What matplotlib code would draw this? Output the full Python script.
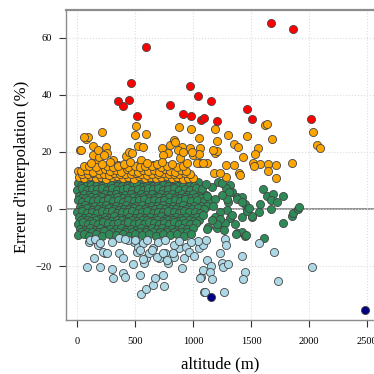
import matplotlib.pyplot as plt

plt.rcParams['font.family'] = ['Liberation Serif', 'DejaVu Serif']

# erreur > 30 %
red_alt = [592, 466, 351, 448, 394, 512, 799, 1667, 1862, 969, 1043, 1153, 914, 980,
           1064, 1090, 1202, 1463, 1503, 2012]
red_err = [56.8, 44.2, 37.9, 38.2, 36.1, 32.6, 36.5, 65.3, 63.2, 43.0, 39.6, 37.7, 33.4, 32.7,
           31.2, 31.8, 30.9, 35.1, 31.4, 31.6]

# erreur < -30 %
navy_alt = [1150, 2483]
navy_err = [-30.9, -35.3]

# 10 % < erreur < 30 %
orange_pts = [
    (23, 20.7), (75, 24.4), (95, 25.1), (60, 25.3), (138, 22.1), (133, 18.9), (167, 16.0),
    (187, 18.3), (216, 27.1), (247, 21.8), (259, 19.5), (310, 17.2), (353, 15.4), (420, 18.6),
    (448, 20.1), (469, 19.5), (503, 29.1), (500, 25.9), (521, 22.2), (569, 21.8), (590, 26.3),
    (541, 16.0), (549, 17.2), (627, 13.7), (733, 21.5), (799, 22.4), (785, 19.5), (836, 24.2),
    (874, 28.8), (905, 21.8), (885, 17.8), (842, 23.6), (871, 20.7), (972, 21.3), (741, 18.9),
    (914, 20.1), (1000, 18.9), (980, 27.9), (1052, 25.0), (1184, 27.9), (1202, 23.9),
    (1302, 25.9), (1348, 22.8), (1385, 21.6), (1463, 25.6), (1618, 29.3), (1633, 29.8),
    (1678, 24.5), (1558, 21.3), (1529, 19.3), (1428, 18.3), (1515, 16.0), (1572, 15.7),
    (1644, 15.8), (1716, 15.4), (1644, 13.4), (1716, 11.0), (1853, 16.0), (1521, 15.1),
    (1391, 12.5), (1279, 15.4), (1353, 15.4), (1282, 11.1), (1181, 12.7), (1190, 19.7),
    (1204, 20.4), (1060, 21.3), (1047, 19.3), (1060, 16.0), (1118, 16.0), (2032, 27.1),
    (2066, 22.3), (2090, 21.4), (989, 20.1), (32, 20.7), (176, 20.7), (233, 18.9), (650, 15.4),
    (6, 13.4), (1403, 11.9), (1230, 12.5), (1029, 16.0), (1086, 16.0), (1172, 20.7),
    (15, 11.2), (60, 10.7), (110, 11.5), (160, 10.9), (205, 11.3), (250, 10.6), (300, 11.1),
    (345, 11.6), (395, 10.8), (440, 11.2), (490, 10.6), (535, 11.4), (580, 10.9), (630, 11.3),
    (675, 10.7), (720, 11.1), (770, 11.5), (815, 10.8), (860, 11.2), (910, 10.6), (955, 11.0),
    (1000, 10.8),
    (40, 12.3), (90, 12.1), (140, 12.5), (185, 12.2), (230, 12.4), (275, 12.0), (320, 12.6),
    (365, 12.2), (410, 12.4), (460, 12.1), (505, 12.5), (550, 12.3), (600, 12.0), (645, 12.4),
    (695, 12.2), (740, 12.6), (790, 12.1), (835, 12.4), (880, 12.2), (930, 12.5), (975, 12.1),
    (30, 13.3), (85, 13.8), (135, 13.1), (190, 13.6), (235, 14.0), (285, 13.2), (330, 13.7),
    (380, 13.0), (425, 13.9), (475, 13.4), (520, 13.1), (565, 13.8), (610, 13.3), (660, 13.6),
    (705, 13.0), (755, 13.9), (800, 13.4), (845, 13.1), (895, 13.7), (940, 13.2),
    (60, 14.9), (100, 15.2), (160, 14.7), (255, 15.0), (310, 14.6), (355, 15.1), (440, 14.8),
    (500, 15.2), (540, 14.7), (585, 15.0), (640, 14.9), (720, 14.6), (775, 15.1), (860, 14.8),
    (915, 15.0),
    (120, 16.2), (210, 15.8), (280, 16.4), (400, 15.7), (455, 16.3), (600, 16.1), (690, 15.9),
    (730, 16.5), (820, 15.8), (950, 16.0),
]

# -30 % < erreur < -10 %
blue_pts = [
    (81, -20.2), (141, -17.3), (193, -20.2), (241, -15.3), (219, -15.0), (299, -21.1),
    (305, -24.3), (357, -15.5), (397, -17.3), (397, -22.5), (409, -23.7), (478, -19.4),
    (491, -11.5), (512, -15.0), (521, -13.2), (541, -23.1), (552, -29.8), (592, -28.0),
    (592, -17.3), (578, -19.0), (621, -15.5), (655, -26.6), (672, -24.3), (736, -23.1),
    (750, -27.0), (759, -15.5), (707, -17.3), (779, -19.0), (836, -16.7), (903, -20.8),
    (922, -17.3), (879, -13.8), (103, -11.5), (176, -12.6), (362, -10.3), (434, -10.9),
    (564, -12.0), (650, -13.8), (693, -11.5), (836, -12.6), (937, -13.2), (1052, -13.8),
    (1066, -23.7), (1095, -29.0), (1273, -10.5), (1282, -12.8), (1230, -15.5), (1121, -17.9),
    (1150, -19.9), (1081, -21.4), (1144, -22.2), (1058, -24.1), (1164, -24.5), (1245, -19.0),
    (1253, -20.5), (1302, -19.3), (1101, -29.0), (1265, -29.0), (1417, -16.5), (1446, -22.0),
    (1431, -24.5), (1569, -12.0), (1696, -15.2), (1733, -25.2), (2023, -20.3), (1084, -12.6),
    (1110, -11.0), (1040, -11.2), (980, -11.5), (960, -15.0), (1010, -16.5), (110, -11.0),
    (153, -10.4), (196, -12.0), (253, -15.4), (411, -10.4), (497, -11.0), (541, -14.5),
    (569, -17.4), (641, -14.5), (684, -16.8), (741, -15.6), (770, -18.0), (828, -15.6),
    (880, -11.2), (760, -11.0), (300, -11.5), (600, -10.8),
]

# -10 % < erreur < 10 %
green_pts = [
    (10, 9.2), (55, 8.7), (95, 9.4), (140, 8.9), (185, 9.3), (230, 8.6), (270, 9.1), (320, 9.5),
    (360, 8.8), (405, 9.2), (450, 8.5), (490, 9.3), (540, 9.0), (585, 8.7), (625, 9.4),
    (670, 8.9), (715, 9.2), (760, 8.6), (800, 9.3), (850, 9.0), (895, 8.4), (940, 9.1),
    (990, 8.8), (1040, 9.3),
    (30, 8.1), (75, 7.9), (120, 8.3), (165, 8.0), (210, 8.2), (250, 7.8), (295, 8.3), (340, 8.0),
    (385, 7.9), (425, 8.2), (470, 8.0), (515, 8.3), (560, 7.8), (605, 8.1), (650, 8.2),
    (690, 7.9), (735, 8.3), (780, 8.0), (825, 7.8), (870, 8.2), (915, 8.0), (965, 8.1),
    (1010, 7.9),
    (0, 6.8), (40, 7.3), (85, 6.6), (125, 7.1), (170, 6.9), (215, 7.4), (255, 6.7), (300, 7.2),
    (345, 6.5), (390, 7.0), (430, 7.5), (475, 6.8), (520, 7.1), (565, 6.6), (610, 7.3),
    (655, 6.9), (700, 7.2), (740, 6.5), (785, 7.0), (830, 7.4), (880, 6.7), (925, 7.1),
    (970, 6.6), (1020, 7.2), (1075, 6.9),
    (15, 4.7), (60, 5.2), (100, 4.9), (150, 5.4), (195, 4.6), (240, 5.1), (280, 4.8), (330, 5.3),
    (370, 4.6), (415, 5.0), (460, 5.4), (505, 4.7), (550, 5.2), (595, 4.9), (640, 5.3),
    (685, 4.6), (725, 5.1), (770, 4.8), (815, 5.3), (860, 4.7), (905, 5.2), (950, 4.9),
    (1000, 5.1), (1050, 4.6), (1110, 5.0),
    (30, 4.0), (75, 3.8), (120, 4.1), (165, 3.9), (210, 4.2), (255, 3.8), (300, 4.0), (345, 4.1),
    (390, 3.7), (435, 4.0), (480, 4.2), (525, 3.9), (570, 4.1), (615, 3.8), (660, 4.0),
    (705, 4.2), (750, 3.9), (795, 4.1), (840, 3.8), (885, 4.0), (930, 4.2), (975, 3.9),
    (1025, 4.1), (1070, 3.8),
    (5, 3.1), (45, 2.6), (90, 3.3), (135, 2.8), (175, 3.2), (220, 2.7), (265, 3.4), (310, 2.9),
    (350, 3.1), (395, 2.6), (440, 3.3), (485, 2.8), (530, 3.0), (575, 3.4), (620, 2.7),
    (660, 3.2), (705, 2.9), (750, 3.3), (795, 2.6), (840, 3.1), (885, 2.8), (930, 3.4),
    (980, 2.9), (1030, 3.2), (1090, 2.7), (1140, 3.0),
    (20, 0.8), (65, 1.3), (110, 0.6), (155, 1.1), (200, 0.9), (245, 1.4), (290, 0.7), (335, 1.2),
    (380, 0.8), (420, 1.3), (465, 0.6), (510, 1.0), (555, 1.4), (600, 0.7), (645, 1.2),
    (690, 0.9), (735, 1.3), (780, 0.6), (825, 1.1), (870, 0.8), (915, 1.3), (960, 0.7),
    (1010, 1.2), (1065, 0.9), (1120, 1.1),
    (40, 0.0), (85, 0.2), (130, -0.2), (180, 0.1), (225, -0.1), (270, 0.2), (315, 0.0),
    (360, -0.2), (400, 0.1), (445, 0.0), (490, 0.2), (535, -0.1), (580, 0.1), (625, -0.2),
    (670, 0.0), (715, 0.2), (760, -0.1), (805, 0.1), (850, 0.0), (895, -0.2), (940, 0.1),
    (985, 0.0), (1040, 0.2), (1090, -0.1),
    (0, -1.2), (40, -0.7), (80, -1.3), (125, -0.9), (170, -1.4), (210, -0.8), (255, -1.1),
    (300, -0.6), (340, -1.3), (385, -0.9), (430, -1.2), (470, -0.7), (515, -1.4), (560, -1.0),
    (605, -0.8), (650, -1.3), (695, -0.9), (740, -1.2), (785, -0.7), (830, -1.1), (875, -1.4),
    (920, -0.8), (965, -1.2), (1015, -0.9), (1060, -1.3),
    (15, -2.8), (60, -3.3), (105, -2.7), (145, -3.1), (190, -3.4), (235, -2.9), (275, -3.2),
    (320, -2.6), (365, -3.0), (410, -3.4), (450, -2.8), (495, -3.2), (540, -2.7), (585, -3.3),
    (630, -2.9), (675, -3.1), (720, -2.6), (760, -3.4), (805, -3.0), (850, -2.7), (895, -3.3),
    (940, -2.9), (990, -3.2), (1035, -2.8),
    (35, -4.0), (80, -3.8), (120, -4.2), (165, -3.9), (210, -4.1), (250, -3.8), (295, -4.2),
    (340, -4.0), (385, -3.9), (430, -4.1), (470, -3.8), (515, -4.2), (560, -4.0), (605, -3.9),
    (645, -4.1), (690, -3.8), (735, -4.2), (780, -4.0), (825, -3.9), (870, -4.1), (915, -3.8),
    (960, -4.0), (1005, -4.2), (1050, -3.9),
    (5, -5.1), (50, -4.7), (90, -5.3), (135, -4.9), (180, -5.2), (225, -4.6), (265, -5.0),
    (310, -5.4), (355, -4.8), (400, -5.1), (440, -4.7), (485, -5.3), (530, -4.9), (575, -5.2),
    (615, -4.6), (660, -5.0), (705, -5.4), (750, -4.8), (790, -5.2), (835, -4.7), (880, -5.1),
    (925, -4.9), (975, -5.3), (1020, -4.8),
    (20, -6.9), (65, -7.3), (110, -6.7), (150, -7.2), (195, -6.8), (240, -7.4), (285, -6.9),
    (330, -7.1), (375, -6.6), (420, -7.3), (460, -6.9), (505, -7.2), (550, -6.7), (595, -7.4),
    (640, -6.8), (685, -7.1), (730, -6.6), (770, -7.3), (815, -6.9), (860, -7.2), (905, -6.8),
    (950, -7.0), (1000, -6.7),
    (35, -8.0), (80, -8.2), (130, -7.9), (180, -8.1), (230, -7.8), (300, -8.2), (355, -8.0),
    (415, -7.9), (475, -8.1), (530, -8.2), (590, -7.9), (650, -8.1), (710, -8.0), (770, -8.2),
    (830, -7.9), (890, -8.1), (950, -8.0),
    (10, -9.1), (55, -8.7), (100, -9.4), (160, -8.9), (215, -9.3), (270, -8.6), (330, -9.2),
    (390, -8.8), (445, -9.5), (500, -8.7), (560, -9.1), (620, -8.9), (680, -9.3), (740, -8.6),
    (800, -9.2), (860, -8.8), (920, -9.4), (980, -8.9),
    (1216, 9.6), (1316, 8.4), (1282, 7.3), (1331, 6.1), (1159, 7.8), (1374, 4.3), (1417, 4.3),
    (1302, 2.6), (1288, -0.3), (1230, -0.9), (1187, -2.7), (1316, -3.3), (1245, -4.4),
    (1273, -4.8), (1359, -5.3), (1374, -8.5), (1417, -8.0), (1202, -6.8), (1130, -6.2),
    (1086, -2.1), (1598, 6.9), (1638, 4.6), (1690, 5.1), (1667, 3.2), (1719, 2.6), (1776, 4.6),
    (1575, 1.8), (1569, -0.9), (1667, 0.0), (1503, -2.7), (1417, -2.7), (1446, 1.8),
    (1460, -0.3), (1848, -2.5), (1857, -1.3), (1905, 0.0), (1912, 0.8), (1776, -4.8),
    (1446, -9.5), (1606, -10.0), (1457, -9.2), (1371, -8.6), (1506, -2.6), (1463, -0.7),
    (1477, 0.5), (1377, 3.6), (1420, 2.5), (1305, 6.0), (1291, 3.6), (1334, -2.2), (1233, -3.4),
    (1262, -7.5), (1204, -5.1), (1161, -4.0), (1118, -6.9), (1190, 3.5), (1250, 5.0),
    (1120, 4.5), (1170, 1.0), (1110, 8.8), (1250, 9.2),
]

x_ticks = [0, 500, 1000, 1500, 2000, 2500]
y_ticks = [-20, 0, 20, 40, 60]

W = 374
fig = plt.figure(figsize=(3.74, 3.74), dpi=100)
ax = fig.add_axes([66 / W, 54 / W, 310 / W, 310 / W])

ax.grid(True, color='#dddddd', linestyle=':', linewidth=0.8, zorder=0)
ax.axhline(0, color='#808080', linewidth=1.2, zorder=1)

mk = dict(s=34, edgecolors='#444444', linewidths=0.6, zorder=2)
ax.scatter([p[0] for p in green_pts], [p[1] for p in green_pts], c='#2E8B57', **mk)
ax.scatter([p[0] for p in blue_pts], [p[1] for p in blue_pts], c='#ADD8E6', **mk)
ax.scatter([p[0] for p in orange_pts], [p[1] for p in orange_pts], c='#FFA500', **mk)
ax.scatter(red_alt, red_err, c='#FF0000', **mk)
ax.scatter(navy_alt, navy_err, c='#000080', **mk)

ax.set_xlim(-97, 2575)
ax.set_ylim(-38.9, 69.7)
ax.set_xticks(x_ticks)
ax.set_yticks(y_ticks)
ax.tick_params(direction='out', length=5, width=0.8, color='#333333', labelsize=7.5)
ax.tick_params(axis='x', pad=7)
ax.tick_params(axis='y', pad=5)

for s in ax.spines.values():
    s.set_color('#8c8c8c')
    s.set_linewidth(1.0)
ax.spines['top'].set_linewidth(1.6)

fig.text(22 / W, 1 - 167 / W, "Erreur d'interpolation (%)", rotation=90,
         ha='center', va='center', fontsize=12)
fig.text(220 / W, 1 - 364 / W, "altitude (m)", ha='center', va='center', fontsize=12)

fig.savefig('out.png', dpi=100)
